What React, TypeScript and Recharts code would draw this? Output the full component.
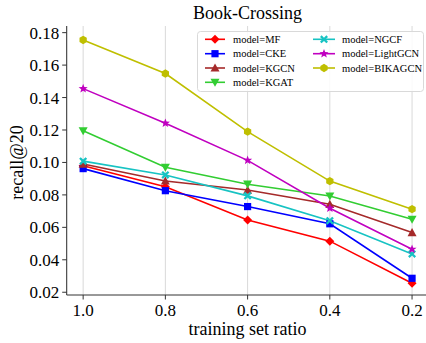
import React from 'react';
import { LineChart, Line, XAxis, YAxis, CartesianGrid, Legend } from 'recharts';

const RATIOS = [1.0, 0.8, 0.6, 0.4, 0.2];
const X_TICKS = [1.0, 0.8, 0.6, 0.4, 0.2];
const Y_TICKS = [0.02, 0.04, 0.06, 0.08, 0.1, 0.12, 0.14, 0.16, 0.18];

const MF = [0.098, 0.085, 0.0645, 0.0515, 0.0255];
const CKE = [0.0962, 0.0826, 0.0728, 0.0622, 0.0286];
const KGCN = [0.099, 0.0886, 0.083, 0.0742, 0.0568];
const KGAT = [0.1195, 0.097, 0.0866, 0.0793, 0.065];
const NGCF = [0.1008, 0.0923, 0.0794, 0.0641, 0.0436];
const LIGHTGCN = [0.1455, 0.1242, 0.1013, 0.0718, 0.0465];
const BIKAGCN = [0.1755, 0.1548, 0.119, 0.0885, 0.0712];

const SERIES = [
  { key: 'MF', label: 'model=MF', values: MF, color: '#ff0000', shape: 'diamond' },
  { key: 'CKE', label: 'model=CKE', values: CKE, color: '#0000ff', shape: 'square' },
  { key: 'KGCN', label: 'model=KGCN', values: KGCN, color: '#a52a2a', shape: 'triUp' },
  { key: 'KGAT', label: 'model=KGAT', values: KGAT, color: '#32cd32', shape: 'triDown' },
  { key: 'NGCF', label: 'model=NGCF', values: NGCF, color: '#17c3c3', shape: 'xfill' },
  { key: 'LightGCN', label: 'model=LightGCN', values: LIGHTGCN, color: '#c000c0', shape: 'star' },
  { key: 'BIKAGCN', label: 'model=BIKAGCN', values: BIKAGCN, color: '#bfbf00', shape: 'hex' },
];

const data = RATIOS.map((r, i) => {
  const row: any = { ratio: r };
  SERIES.forEach((s) => (row[s.key] = s.values[i]));
  return row;
});

const FONT = '"Liberation Serif", "Times New Roman", serif';

function pts(list: number[][]) {
  return list.map((p) => p.join(',')).join(' ');
}

function Marker({ cx, cy, shape, color }: { cx: number; cy: number; shape: string; color: string }) {
  if (cx == null || cy == null) return null;
  const r = 4.5;
  if (shape === 'diamond') {
    return <polygon points={pts([[cx, cy - r], [cx + r, cy], [cx, cy + r], [cx - r, cy]])} fill={color} />;
  }
  if (shape === 'square') {
    return <rect x={cx - 3.6} y={cy - 3.6} width={7.2} height={7.2} fill={color} />;
  }
  if (shape === 'triUp') {
    return <polygon points={pts([[cx, cy - r], [cx + r, cy + r * 0.8], [cx - r, cy + r * 0.8]])} fill={color} />;
  }
  if (shape === 'triDown') {
    return <polygon points={pts([[cx, cy + r], [cx + r, cy - r * 0.8], [cx - r, cy - r * 0.8]])} fill={color} />;
  }
  if (shape === 'xfill') {
    const a = 1.6;
    const b = 4;
    return (
      <polygon
        points={pts([
          [cx - b + a, cy - b], [cx, cy - a], [cx + b - a, cy - b], [cx + b, cy - b + a],
          [cx + a, cy], [cx + b, cy + b - a], [cx + b - a, cy + b], [cx, cy + a],
          [cx - b + a, cy + b], [cx - b, cy + b - a], [cx - a, cy], [cx - b, cy - b + a],
        ])}
        fill={color}
      />
    );
  }
  if (shape === 'star') {
    const out: number[][] = [];
    for (let k = 0; k < 10; k++) {
      const rad = k % 2 === 0 ? 4.8 : 2;
      const ang = -Math.PI / 2 + (k * Math.PI) / 5;
      out.push([cx + rad * Math.cos(ang), cy + rad * Math.sin(ang)]);
    }
    return <polygon points={pts(out)} fill={color} />;
  }
  // hexagon
  const hex: number[][] = [];
  for (let k = 0; k < 6; k++) {
    const ang = -Math.PI / 2 + (k * Math.PI) / 3;
    hex.push([cx + 4.2 * Math.cos(ang), cy + 4.2 * Math.sin(ang)]);
  }
  return <polygon points={pts(hex)} fill={color} />;
}

function LegendBox() {
  const rowsY = [8.3, 22.7, 37, 51.3];
  return (
    <svg width={227} height={61} style={{ display: 'block' }}>
      <rect x={0.5} y={0.5} width={226} height={60} rx={3} fill="rgba(255,255,255,0.85)" stroke="#d9d9d9" />
      {SERIES.map((s, i) => {
        const col = i < 4 ? 0 : 1;
        const y = rowsY[col === 0 ? i : i - 4];
        const x0 = col === 0 ? 8 : 116;
        const x1 = col === 0 ? 28 : 138;
        const tx = col === 0 ? 36 : 145;
        return (
          <g key={s.key}>
            <line x1={x0} y1={y} x2={x1} y2={y} stroke={s.color} strokeWidth={1.6} />
            <Marker cx={(x0 + x1) / 2} cy={y} shape={s.shape} color={s.color} />
            <text x={tx} y={y + 3.7} fontSize={10.5} fontFamily={FONT} fill="#000">
              {s.label}
            </text>
          </g>
        );
      })}
    </svg>
  );
}

export default function App() {
  return (
    <div style={{ position: 'fixed', left: 0, top: 0, width: 426, height: 343, overflow: 'hidden', background: '#fff' }}>
      <LineChart width={440} height={343} data={data} margin={{ top: 26, right: 11.5, bottom: 0, left: 0 }}>
        <CartesianGrid horizontal={false} stroke="#d9d9d9" strokeWidth={1} />
        <XAxis
          dataKey="ratio"
          type="number"
          domain={[0.16, 1.04]}
          reversed
          allowDataOverflow
          ticks={X_TICKS}
          tickFormatter={(v) => Number(v).toFixed(1)}
          height={48}
          tickSize={4.5}
          tickMargin={4}
          tick={{ fontSize: 17, fontFamily: FONT, fill: '#000' }}
          tickLine={{ stroke: '#333' }}
          axisLine={{ stroke: '#333' }}
          interval={0}
        />
        <XAxis
          xAxisId="top"
          orientation="top"
          type="number"
          domain={[0.16, 1.04]}
          reversed
          height={0}
          tick={false}
          tickLine={false}
          axisLine={{ stroke: '#333' }}
        />
        <YAxis
          type="number"
          domain={[0.0183, 0.1841]}
          allowDataOverflow
          ticks={Y_TICKS}
          tickFormatter={(v) => Number(v).toFixed(2)}
          width={66.7}
          tickSize={4.5}
          tickMargin={3}
          tick={{ fontSize: 17, fontFamily: FONT, fill: '#000' }}
          tickLine={{ stroke: '#333' }}
          axisLine={{ stroke: '#333' }}
          interval={0}
        />
        <Legend
          layout="vertical"
          align="center"
          verticalAlign="middle"
          content={() => <LegendBox />}
          wrapperStyle={{ position: 'absolute', left: 197, top: 31, width: 227, height: 61 }}
        />
        {SERIES.map((s) => (
          <Line
            key={s.key}
            dataKey={s.key}
            name={s.label}
            stroke={s.color}
            strokeWidth={1.6}
            isAnimationActive={false}
            dot={(p: any) => <Marker key={`${s.key}-${p.index}`} cx={p.cx} cy={p.cy} shape={s.shape} color={s.color} />}
            activeDot={false}
          />
        ))}
      </LineChart>
      <svg width={426} height={343} style={{ position: 'absolute', left: 0, top: 0, pointerEvents: 'none' }}>
        <text x={247.5} y={19.3} textAnchor="middle" fontSize={18} fontFamily={FONT} fill="#000">
          Book-Crossing
        </text>
        <text
          x={22.5}
          y={162.5}
          textAnchor="middle"
          fontSize={18}
          fontFamily={FONT}
          fill="#000"
          transform="rotate(-90 22.5 162.5)"
        >
          recall@20
        </text>
        <text x={247.5} y={334.5} textAnchor="middle" fontSize={18} fontFamily={FONT} fill="#000">
          training set ratio
        </text>
      </svg>
    </div>
  );
}
